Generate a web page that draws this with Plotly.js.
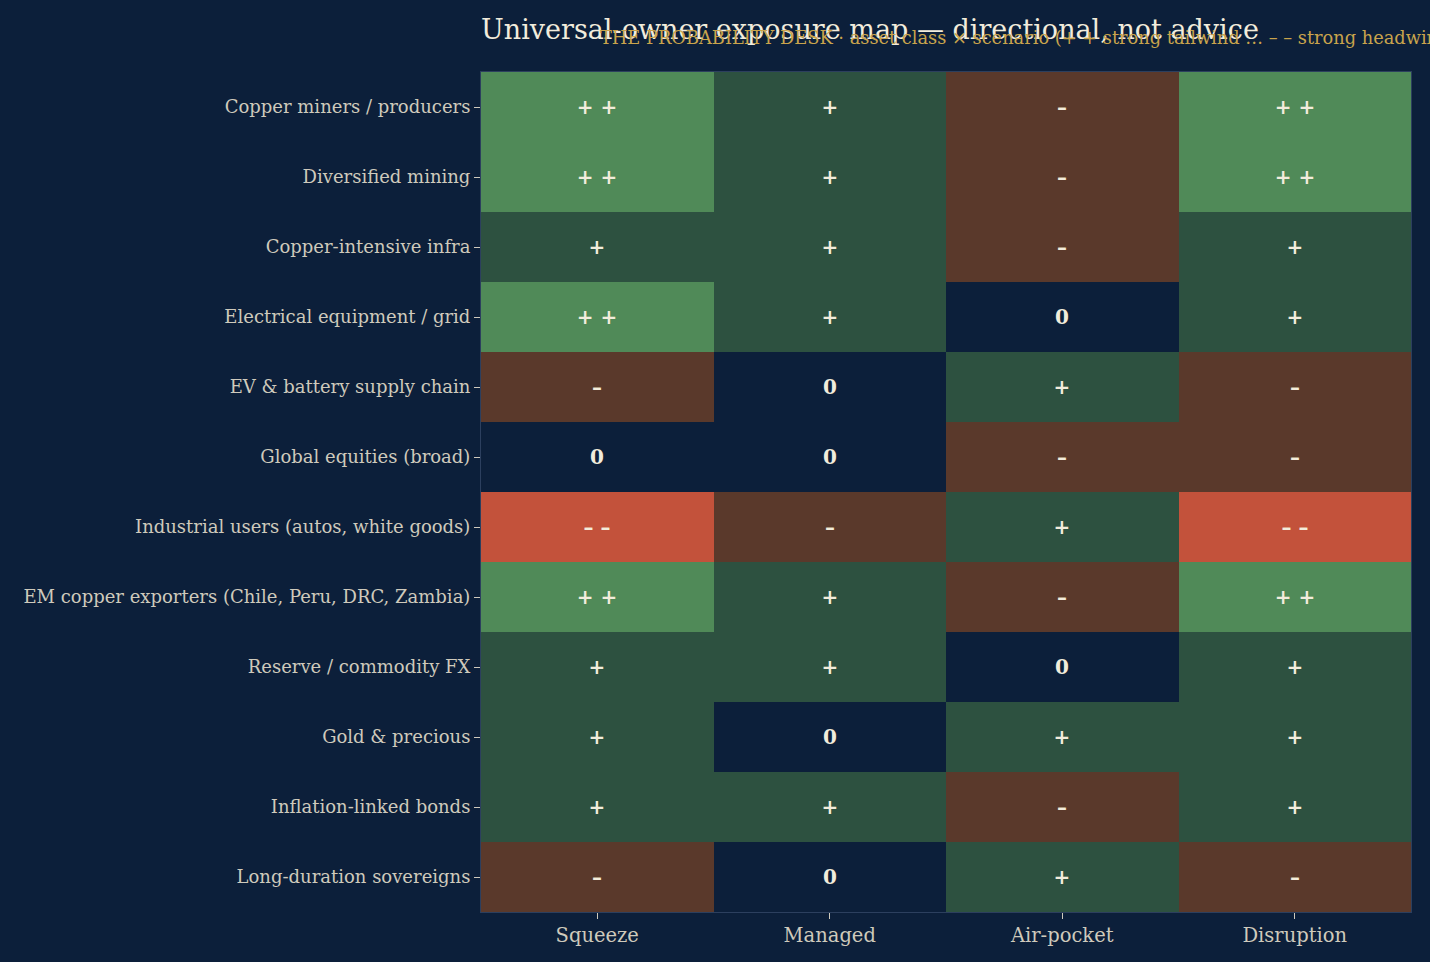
<!DOCTYPE html>
<html>
<head>
<meta charset="utf-8">
<script src="https://cdn.plot.ly/plotly-3.0.1.min.js"></script>
<style>html,body{margin:0;padding:0;background:#0c1f3a;}#chart{width:1430px;height:962px;}</style>
</head>
<body>
<div id="chart"></div>
<script>
const scenarios = ["Squeeze", "Managed", "Air-pocket", "Disruption"];
const assetClasses = [
  "Copper miners / producers",
  "Diversified mining",
  "Copper-intensive infra",
  "Electrical equipment / grid",
  "EV & battery supply chain",
  "Global equities (broad)",
  "Industrial users (autos, white goods)",
  "EM copper exporters (Chile, Peru, DRC, Zambia)",
  "Reserve / commodity FX",
  "Gold & precious",
  "Inflation-linked bonds",
  "Long-duration sovereigns"
];
// +2 strong tailwind ... -2 strong headwind
const scores = [
  [2, 1, -1, 2],
  [2, 1, -1, 2],
  [1, 1, -1, 1],
  [2, 1, 0, 1],
  [-1, 0, 1, -1],
  [0, 0, -1, -1],
  [-2, -1, 1, -2],
  [2, 1, -1, 2],
  [1, 1, 0, 1],
  [1, 0, 1, 1],
  [1, 1, -1, 1],
  [-1, 0, 1, -1]
];
const symbolFor = {"2": "+ +", "1": "+", "0": "0", "-1": "–", "-2": "– –"};
const cellText = scores.map(r => r.map(v => symbolFor[String(v)]));

const colorscale = [
  [0.0, "#c3523b"], [0.2, "#c3523b"],
  [0.2, "#5a392b"], [0.4, "#5a392b"],
  [0.4, "#0c1f3a"], [0.6, "#0c1f3a"],
  [0.6, "#2d5140"], [0.8, "#2d5140"],
  [0.8, "#508a58"], [1.0, "#508a58"]
];

const trace = {
  type: "heatmap",
  x: scenarios,
  y: assetClasses,
  z: scores,
  zmin: -2.5,
  zmax: 2.5,
  text: cellText,
  texttemplate: "%{text}",
  textfont: {family: "DejaVu Serif", size: 20, color: "#f2ecdc", weight: "bold"},
  colorscale: colorscale,
  showscale: false,
  xgap: 0, ygap: 0,
  hoverinfo: "x+y+text"
};

const layout = {
  width: 1430, height: 962,
  paper_bgcolor: "#0c1f3a",
  plot_bgcolor: "#0c1f3a",
  margin: {l: 481, r: 19, t: 72, b: 50},
  font: {family: "DejaVu Serif", color: "#cfcabc"},
  title: {
    text: "Universal-owner exposure map — directional, not advice",
    font: {family: "DejaVu Serif", size: 27, color: "#f2ecdc"},
    x: 0, xref: "paper", xanchor: "left",
    y: 0.969, yref: "container", yanchor: "middle"
  },
  annotations: [{
    text: "THE PROBABILITY DESK · asset class × scenario (+ + strong tailwind … – – strong headwind)",
    xref: "paper", yref: "paper",
    x: 0.126, xanchor: "left",
    y: 1.0405, yanchor: "middle",
    showarrow: false,
    font: {family: "DejaVu Serif", size: 17.8, color: "#c9a44c"}
  }],
  xaxis: {
    showgrid: false, zeroline: false,
    ticks: "outside", ticklen: 6, tickcolor: "#cfcabc",
    tickfont: {family: "DejaVu Serif", size: 19.5, color: "#cfcabc"},
    showline: true, linecolor: "#2c3f5e", mirror: true, linewidth: 1
  },
  yaxis: {
    autorange: "reversed",
    showgrid: false, zeroline: false,
    ticks: "outside", ticklen: 6, tickcolor: "#cfcabc",
    tickfont: {family: "DejaVu Serif", size: 18, color: "#cfcabc"},
    showline: true, linecolor: "#2c3f5e", mirror: true, linewidth: 1
  }
};

Plotly.newPlot("chart", [trace], layout, {displayModeBar: false});
</script>
</body>
</html>
